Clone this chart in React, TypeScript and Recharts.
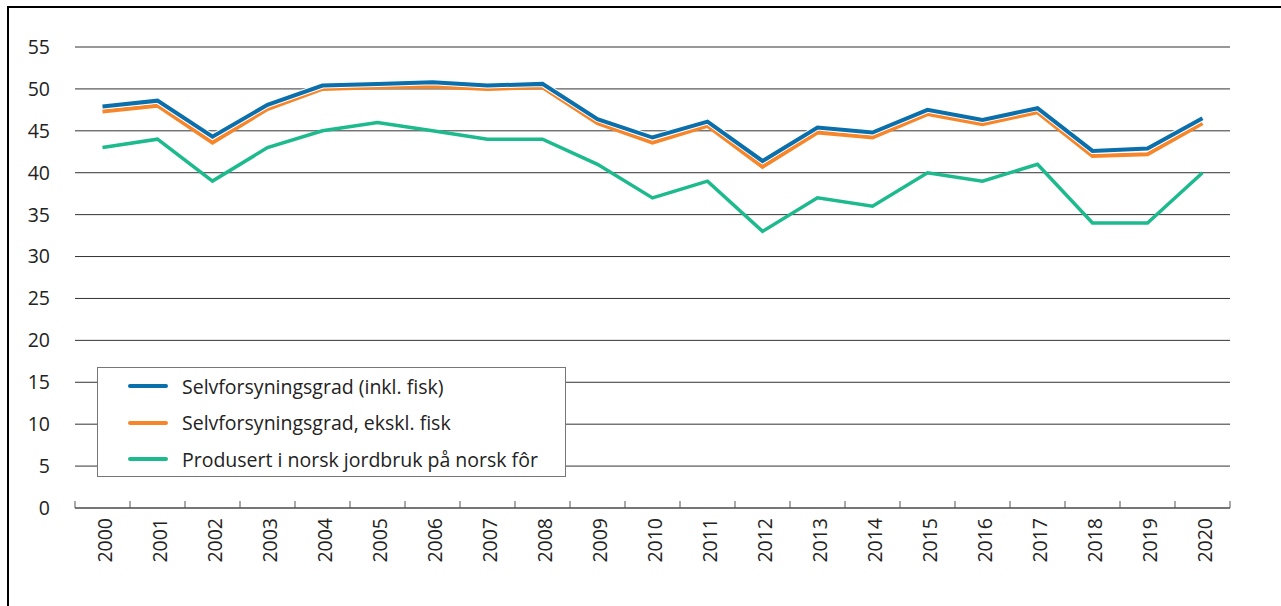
import React from "react";
import { LineChart, Line, XAxis, YAxis, CartesianGrid, Legend } from "recharts";

const years = ["2000","2001","2002","2003","2004","2005","2006","2007","2008","2009","2010","2011","2012","2013","2014","2015","2016","2017","2018","2019","2020"];
const inklFisk = [47.9, 48.6, 44.3, 48.1, 50.4, 50.6, 50.8, 50.4, 50.6, 46.4, 44.2, 46.1, 41.4, 45.4, 44.8, 47.5, 46.3, 47.7, 42.6, 42.9, 46.5];
const eksklFisk = [47.3, 48.0, 43.6, 47.6, 50.0, 50.2, 50.3, 50.0, 50.2, 45.9, 43.6, 45.6, 40.7, 44.8, 44.2, 47.0, 45.8, 47.2, 42.0, 42.2, 45.9];
const norskFor = [43, 44, 39, 43, 45, 46, 45, 44, 44, 41, 37, 39, 33, 37, 36, 40, 39, 41, 34, 34, 40];
const yTicks = [0, 5, 10, 15, 20, 25, 30, 35, 40, 45, 50, 55];
const seriesNames = ["Selvforsyningsgrad (inkl. fisk)", "Selvforsyningsgrad, ekskl. fisk", "Produsert i norsk jordbruk på norsk fôr"];
const seriesColors = ["#0a6fab", "#f7862a", "#1dba8e"];

const data = years.map((y, i) => ({ year: y, a: inklFisk[i], b: eksklFisk[i], c: norskFor[i] }));

const W = 1281;
const H = 606;
const PLOT_LEFT = 75;
const PLOT_RIGHT = 1230;
const PLOT_TOP = 47;
const PLOT_BOTTOM = 508;
const BAND = (PLOT_RIGHT - PLOT_LEFT) / years.length;
const FONT = "'Open Sans', sans-serif";

const XTick = (props: any) => {
  const { x, y, payload, index } = props;
  const left = x - BAND / 2;
  const right = x + BAND / 2;
  return (
    <g>
      <line x1={left} y1={y} x2={left} y2={y - 7} stroke="#555" strokeWidth={1} />
      {index === years.length - 1 && (
        <line x1={right} y1={y} x2={right} y2={y - 7} stroke="#555" strokeWidth={1} />
      )}
      <text
        x={x + 2}
        y={y + 10}
        transform={`rotate(-90, ${x + 2}, ${y + 10})`}
        textAnchor="end"
        dy="0.36em"
        fontFamily={FONT}
        fontSize={19.5}
        fill="#222"
      >
        {payload.value}
      </text>
    </g>
  );
};

const LegendBox = () => (
  <div
    style={{
      width: 469,
      height: 110,
      border: "1.5px solid #777",
      background: "#fff",
      boxSizing: "border-box",
      position: "relative",
      fontFamily: FONT,
    }}
  >
    {seriesNames.map((n, i) => (
      <div
        key={n}
        style={{ position: "absolute", left: 30, top: 4 + i * 36.7, height: 28, display: "flex", alignItems: "center" }}
      >
        <div style={{ width: 40, height: 4, background: seriesColors[i], borderRadius: 2 }} />
        <span style={{ marginLeft: 14, fontSize: 19.5, color: "#222", whiteSpace: "nowrap" }}>{n}</span>
      </div>
    ))}
  </div>
);

export default function App() {
  return (
    <div style={{ position: "absolute", left: 0, top: 0, width: W, height: H, background: "#fff" }}>
      <div
        style={{
          position: "absolute",
          left: 7,
          top: 6,
          width: W - 7,
          height: H - 6,
          borderLeft: "2px solid #000",
          borderTop: "2px solid #000",
          boxSizing: "border-box",
        }}
      />
      <div style={{ position: "absolute", left: 0, top: 0 }}>
        <LineChart
          width={W}
          height={H}
          data={data}
          margin={{ top: PLOT_TOP, right: W - PLOT_RIGHT, bottom: 0, left: PLOT_LEFT - 40 }}
        >
          <CartesianGrid vertical={false} stroke="#333" strokeWidth={1} />
          <XAxis
            dataKey="year"
            scale="band"
            height={H - PLOT_BOTTOM}
            tickLine={false}
            tickSize={0}
            tickMargin={0}
            axisLine={{ stroke: "#555", strokeWidth: 1.2 }}
            tick={<XTick />}
            interval={0}
          />
          <YAxis
            width={40}
            domain={[0, 55]}
            ticks={yTicks}
            axisLine={false}
            tickLine={false}
            tickSize={0}
            tickMargin={25}
            tick={{ fontFamily: FONT, fontSize: 19.5, fill: "#222" }}
            interval={0}
          />
          <Legend
            layout="vertical"
            align="center"
            verticalAlign="middle"
            wrapperStyle={{ left: 97, top: 367, width: 469, height: 110 }}
            content={() => <LegendBox />}
          />
          <Line type="linear" dataKey="c" stroke={seriesColors[2]} strokeWidth={3.5} dot={false} isAnimationActive={false} />
          <Line type="linear" dataKey="b" stroke={seriesColors[1]} strokeWidth={4} dot={false} isAnimationActive={false} />
          <Line type="linear" dataKey="a" stroke="#fff" strokeWidth={6} dot={false} isAnimationActive={false} legendType="none" />
          <Line type="linear" dataKey="a" stroke={seriesColors[0]} strokeWidth={4} dot={false} isAnimationActive={false} />
        </LineChart>
      </div>
    </div>
  );
}
